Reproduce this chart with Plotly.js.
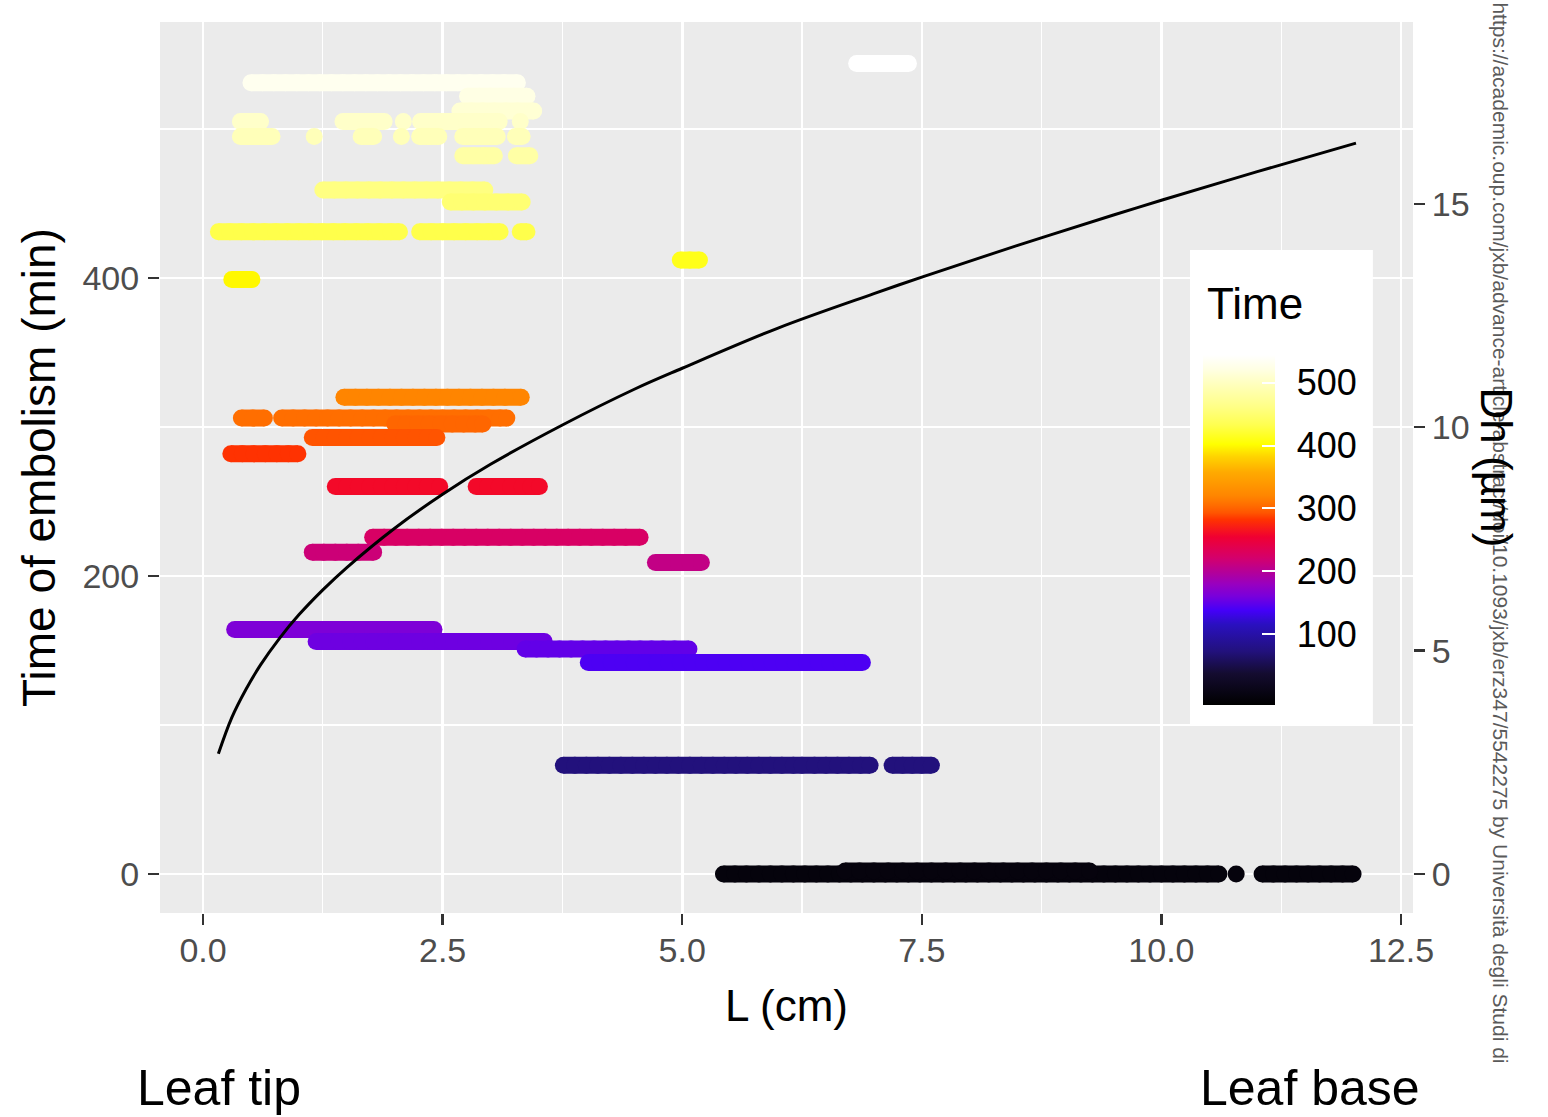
<!DOCTYPE html>
<html>
<head>
<meta charset="utf-8">
<script src="https://cdn.plot.ly/plotly-3.0.1.min.js"></script>
<style>html,body{margin:0;padding:0;background:#fff;}</style>
</head>
<body>
<div id="chart" style="width:1548px;height:1117px;"></div>
<script>
// Time of embolism (min) for each horizontal band of points
const bandTime = [531, 522, 512, 505, 495, 482, 459, 451, 431, 399, 412, 544, 320, 306, 302, 293, 282, 260, 226, 216, 209, 164, 156, 151, 142, 73, 0, 2];
// Position along the leaf L (cm) of the points in each band
const bandL = [
  [0.50,0.62,0.74,0.86,0.98,1.10,1.22,1.34,1.46,1.58,1.70,1.82,1.94,2.06,2.18,2.30,2.42,2.54,2.66,2.78,2.90,3.02,3.14,3.28],
  [2.76,2.88,3.00,3.12,3.24,3.38],
  [2.68,2.80,2.92,3.04,3.16,3.28,3.45],
  [0.39,0.50,0.60,1.46,1.58,1.70,1.82,1.89,2.09,2.27,2.39,2.51,2.63,2.75,2.87,2.99,3.09,3.31],
  [0.39,0.50,0.61,0.72,1.16,1.65,1.78,2.07,2.26,2.36,2.46,2.71,2.83,2.95,3.07,3.26,3.33],
  [2.71,2.82,2.93,3.04,3.27,3.41],
  [1.25,1.37,1.49,1.61,1.73,1.85,1.97,2.09,2.21,2.33,2.45,2.57,2.69,2.81,2.94],
  [2.58,2.70,2.82,2.94,3.06,3.18,3.33],
  [0.16,0.28,0.40,0.52,0.64,0.76,0.88,1.00,1.12,1.24,1.36,1.48,1.60,1.72,1.84,1.96,2.05,2.26,2.38,2.50,2.62,2.74,2.86,2.98,3.10,3.31,3.38],
  [0.30,0.40,0.51],
  [4.98,5.08,5.18],
  [6.82,6.94,7.06,7.18,7.30,7.36],
  [1.47,1.59,1.71,1.83,1.95,2.07,2.19,2.31,2.43,2.55,2.67,2.79,2.91,3.03,3.15,3.32],
  [0.40,0.52,0.64,0.82,0.94,1.06,1.18,1.30,1.42,1.54,1.66,1.78,1.90,2.02,2.14,2.26,2.38,2.50,2.62,2.74,2.86,2.98,3.10,3.17],
  [2.00,2.12,2.24,2.36,2.48,2.60,2.72,2.84,2.92],
  [1.14,1.26,1.38,1.50,1.62,1.74,1.86,1.98,2.10,2.22,2.34,2.44],
  [0.29,0.41,0.53,0.65,0.77,0.89,0.99],
  [1.38,1.50,1.62,1.74,1.86,1.98,2.10,2.22,2.34,2.47,2.85,2.97,3.09,3.21,3.33,3.42,3.51],
  [1.77,1.89,2.01,2.13,2.25,2.37,2.49,2.61,2.73,2.85,2.97,3.09,3.21,3.33,3.45,3.57,3.69,3.81,3.93,4.05,4.17,4.29,4.41,4.56],
  [1.14,1.26,1.38,1.50,1.62,1.78],
  [4.72,4.84,4.96,5.08,5.20],
  [0.33,0.45,0.57,0.69,0.81,0.93,1.05,1.17,1.29,1.41,1.53,1.65,1.77,1.89,2.01,2.13,2.25,2.41],
  [1.18,1.30,1.42,1.54,1.66,1.78,1.90,2.02,2.14,2.26,2.38,2.50,2.62,2.74,2.86,2.98,3.10,3.22,3.34,3.46,3.56],
  [3.36,3.48,3.60,3.72,3.84,3.96,4.08,4.20,4.32,4.44,4.56,4.68,4.80,4.92,5.07],
  [4.02,4.14,4.26,4.38,4.50,4.62,4.74,4.86,4.98,5.10,5.22,5.34,5.46,5.58,5.70,5.82,5.94,6.06,6.18,6.30,6.42,6.54,6.66,6.78,6.88],
  [3.76,3.88,4.00,4.12,4.24,4.36,4.48,4.60,4.72,4.84,4.96,5.08,5.20,5.32,5.44,5.56,5.68,5.80,5.92,6.04,6.16,6.25,6.38,6.50,6.62,6.74,6.86,6.96,7.19,7.30,7.40,7.50,7.60],
  [5.43,5.55,5.67,5.80,5.92,6.04,6.16,6.28,6.40,6.52,6.64,6.76,6.88,7.00,7.12,7.24,7.36,7.48,7.60,7.72,7.84,7.96,8.08,8.20,8.32,8.44,8.56,8.68,8.80,8.92,9.04,9.16,9.28,9.40,9.52,9.64,9.76,9.88,10.00,10.12,10.24,10.36,10.48,10.60,10.78,11.05,11.17,11.29,11.41,11.53,11.65,11.77,11.89,12.00],
  [6.70,6.85,7.00,7.15,7.30,7.45,7.60,7.75,7.90,8.05,8.20,8.35,8.50,8.65,8.80,8.95,9.10,9.25]
];
// Hydraulic diameter curve (right axis)
const curveL  = [0.16,0.3,0.45,0.6,0.8,1.0,1.25,1.5,2.0,2.5,3.0,3.75,4.5,5.0,6.0,7.0,7.5,8.5,9.5,10.0,11.0,12.03];
const curveDh = [2.69,3.5,4.14,4.68,5.28,5.80,6.36,6.86,7.74,8.5,9.17,10.05,10.85,11.32,12.22,12.99,13.36,14.07,14.75,15.08,15.72,16.36];

const xTicks = [0, 2.5, 5, 7.5, 10, 12.5];
const xTickText = ['0.0', '2.5', '5.0', '7.5', '10.0', '12.5'];
const yTicks = [0, 200, 400];
const y2Ticks = [0, 5, 10, 15];
const cbTicks = [100, 200, 300, 400, 500];

const timeScale = [
  [0, '#000000'], [0.09, '#140c30'], [0.153, '#22117c'], [0.23, '#2a10c0'],
  [0.27, '#4400f8'], [0.31, '#7800dc'], [0.345, '#9800c0'], [0.38, '#b40098'],
  [0.42, '#d4006c'], [0.48, '#f00032'], [0.53, '#ff3300'], [0.549, '#ff5500'],
  [0.572, '#ff6e00'], [0.597, '#ff8500'], [0.665, '#ffaa00'], [0.71, '#ffd400'], [0.745, '#ffff00'],
  [0.80, '#ffff50'], [0.85, '#ffff84'], [0.92, '#ffffc0'], [0.96, '#ffffe4'], [1, '#ffffff']
];
const cMin = -12, cMax = 544;

function hexRgb(h) { return [1,3,5].map(i => parseInt(h.substr(i, 2), 16)); }
function colorAt(t) {
  const f = Math.max(0, Math.min(1, (t - cMin) / (cMax - cMin)));
  for (let i = 1; i < timeScale.length; i++) {
    if (f <= timeScale[i][0]) {
      const [f0, c0] = timeScale[i-1], [f1, c1] = timeScale[i];
      const a = hexRgb(c0), b = hexRgb(c1), k = (f - f0) / (f1 - f0);
      const c = a.map((v, j) => Math.round(v + (b[j] - v) * k));
      return 'rgb(' + c.join(',') + ')';
    }
  }
  return timeScale[timeScale.length-1][1];
}

const font = 'Liberation Sans, Arial, sans-serif';
const cbBase = {
  thickness: 72, thicknessmode: 'pixels', len: 350, lenmode: 'pixels',
  x: 0.8324, xanchor: 'left', y: 0.43, yanchor: 'middle', xpad: 0, ypad: 0,
  outlinewidth: 0, bgcolor: 'rgba(0,0,0,0)', tickvals: cbTicks
};
// colour bar with the labels (outside ticks are white on the white legend box)
const cbLabels = Object.assign({}, cbBase, {
  ticks: 'outside', ticklen: 15, tickwidth: 1, tickcolor: '#ffffff',
  tickfont: {size: 36, color: '#000', family: font}
});
// identical bar drawn on top, carrying the white inner tick marks
const cbMarks = Object.assign({}, cbBase, {
  ticks: 'inside', ticklen: 13, tickwidth: 2, tickcolor: '#ffffff', showticklabels: false
});

const traces = [];
bandL.forEach((arr, i) => {
  const t = bandTime[i];
  const xs = [], ys = [];
  arr.forEach((v, j) => {
    if (j > 0 && v - arr[j-1] > 0.175) { xs.push(null); ys.push(null); }
    xs.push(v); ys.push(t);
  });
  const tr = {
    type: 'scatter', mode: 'lines+markers', x: xs, y: ys, connectgaps: false,
    hoverinfo: 'skip', showlegend: false,
    line: {color: colorAt(t), width: 17},
    marker: {size: 17, color: ys.map(v => v === null ? t : v), colorscale: timeScale, cmin: cMin, cmax: cMax,
             line: {width: 0}, showscale: i < 2}
  };
  if (i === 0) tr.marker.colorbar = cbLabels;
  if (i === 1) tr.marker.colorbar = cbMarks;
  traces.push(tr);
});

traces.push({
  type: 'scatter', mode: 'lines', x: curveL, y: curveDh, yaxis: 'y2', hoverinfo: 'skip', showlegend: false,
  line: {color: '#000', width: 3, shape: 'spline'}
});

const layout = {
  width: 1548, height: 1117,
  margin: {l: 160, r: 135, t: 22, b: 204, pad: 0},
  paper_bgcolor: '#ffffff', plot_bgcolor: '#ebebeb',
  font: {family: font},
  xaxis: {
    range: [-0.449, 12.625], tickvals: xTicks, ticktext: xTickText,
    showgrid: true, gridcolor: '#ffffff', gridwidth: 2.6, zeroline: false, showline: false,
    minor: {tickvals: [1.25, 3.75, 6.25, 8.75, 11.25], showgrid: true, gridcolor: '#ffffff', gridwidth: 1.3},
    ticks: 'outside', ticklen: 11, tickwidth: 2.5, tickcolor: '#333333', ticklabelstandoff: -4,
    tickfont: {size: 34, color: '#4d4d4d'},
    title: {text: 'L (cm)', font: {size: 44, color: '#000'}, standoff: 22}
  },
  yaxis: {
    range: [-26.2, 571.8], tickvals: yTicks,
    showgrid: true, gridcolor: '#ffffff', gridwidth: 2.6, zeroline: false, showline: false,
    minor: {tickvals: [100, 300, 500], showgrid: true, gridcolor: '#ffffff', gridwidth: 1.3},
    ticks: 'outside', ticklen: 11, tickwidth: 2.5, tickcolor: '#333333', ticklabelstandoff: 2,
    tickfont: {size: 34, color: '#4d4d4d'},
    title: {text: 'Time of embolism (min)', font: {size: 46, color: '#000'}, standoff: 12}
  },
  yaxis2: {
    overlaying: 'y', side: 'right', anchor: 'x', range: [-0.873, 19.07], tickvals: y2Ticks,
    showgrid: false, zeroline: false, showline: false,
    ticks: 'outside', ticklen: 11, tickwidth: 2.5, tickcolor: '#333333',
    tickfont: {size: 34, color: '#4d4d4d'}
  },
  shapes: [
    {type: 'rect', xref: 'paper', yref: 'paper', x0: 0.822, x1: 0.968, y0: 0.211, y1: 0.744,
     fillcolor: '#ffffff', line: {width: 0}, layer: 'above'}
  ],
  annotations: [
    {text: 'https://academic.oup.com/jxb/advance-article-abstract/doi/10.1093/jxb/erz347/5542275 by Università degli Studi di',
     xref: 'paper', yref: 'paper', x: 1.0695, y: 1.0247, xanchor: 'center', yanchor: 'top',
     textangle: 90, showarrow: false, font: {size: 21, color: '#5a5a5a'}},
    {text: 'Dh (µm)', xref: 'paper', yref: 'paper', x: 1.067, y: 0.5, xanchor: 'center', yanchor: 'middle',
     textangle: 90, showarrow: false, font: {size: 44, color: '#000'}},
    {text: 'Time', xref: 'paper', yref: 'paper', x: 0.834, y: 0.6846, xanchor: 'left', yanchor: 'middle',
     showarrow: false, font: {size: 44, color: '#000'}},
    {text: 'Leaf tip', xref: 'paper', yref: 'paper', x: -0.02, y: -0.196, xanchor: 'left', yanchor: 'middle',
     showarrow: false, font: {size: 50, color: '#000'}},
    {text: 'Leaf base', xref: 'paper', yref: 'paper', x: 1.0072, y: -0.196, xanchor: 'right', yanchor: 'middle',
     showarrow: false, font: {size: 50, color: '#000'}}
  ]
};

Plotly.newPlot('chart', traces, layout, {displayModeBar: false, staticPlot: true});
</script>
</body>
</html>
